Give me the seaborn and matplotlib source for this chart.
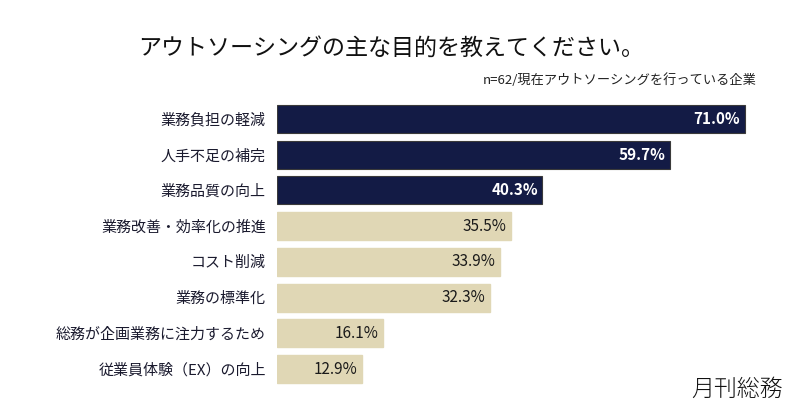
import matplotlib
matplotlib.use("Agg")
import matplotlib.pyplot as plt
import seaborn as sns
import pandas as pd

# data
categories = [
    "業務負担の軽減",
    "人手不足の補完",
    "業務品質の向上",
    "業務改善・効率化の推進",
    "コスト削減",
    "業務の標準化",
    "総務が企画業務に注力するため",
    "従業員体験（EX）の向上",
]
values = [71.0, 59.7, 40.3, 35.5, 33.9, 32.3, 16.1, 12.9]
groups = ["top", "top", "top", "rest", "rest", "rest", "rest", "rest"]

title = "アウトソーシングの主な目的を教えてください。"
subtitle = "n=62/現在アウトソーシングを行っている企業"
logo = "月刊総務"

navy = "#131b45"
beige = "#e0d7b5"

sns.set_theme(style="white")
plt.rcParams["font.family"] = ["Noto Sans CJK JP", "DejaVu Sans"]

df = pd.DataFrame({"cat": categories, "val": values, "grp": groups})

fig = plt.figure(figsize=(8, 4.19), dpi=100)
ax = fig.add_axes([277 / 800, 1 - 387 / 419, 471 / 800, 286 / 419])

sns.barplot(
    data=df, x="val", y="cat", hue="grp",
    palette={"top": navy, "rest": beige}, saturation=1,
    width=0.78, dodge=False, legend=False, ax=ax,
)
for p, g in zip(ax.patches, groups):
    if g == "top":
        p.set_edgecolor("#3a3a3a")
        p.set_linewidth(0.8)
    else:
        p.set_edgecolor(beige)

ax.set_xlim(0, 71.5)
ax.set_ylim(7.5, -0.5)
ax.set_xlabel("")
ax.set_ylabel("")
ax.set_xticks([])
ax.tick_params(axis="y", length=0, pad=8, labelsize=10.8, labelcolor="#1a1a2e")
sns.despine(ax=ax, left=True, bottom=True)

# value labels
for i, (v, g) in enumerate(zip(values, groups)):
    top = g == "top"
    ax.text(v - 0.7, i, f"{v:.1f}%", ha="right", va="center",
            fontsize=11, color="white" if top else "#1a1a1a",
            fontweight="bold" if top else "normal")

fig.text(391 / 800, 1 - 48 / 419, title, ha="center", va="center",
         fontsize=16.6, color="#111111")
fig.text(757 / 800, 1 - 80 / 419, subtitle, ha="right", va="center",
         fontsize=9.5, color="#222222")
fig.text(737 / 800, 1 - 389 / 419, logo, ha="center", va="center",
         fontsize=16.5, color="#111111", fontweight="light")

fig.savefig("out.png", dpi=100, facecolor="white")
